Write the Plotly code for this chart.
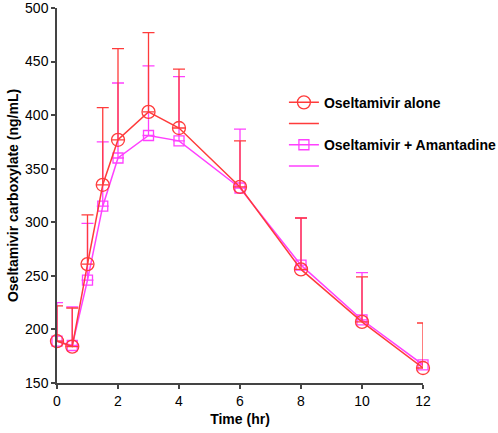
import plotly.graph_objects as go

time_hr = [0, 0.5, 1, 1.5, 2, 3, 4, 6, 8, 10, 12]
alone_mean = [189, 184, 261, 335, 377, 403, 388, 333, 256, 207, 164]
alone_upper = [222, 220, 307, 407, 462, 477, 443, 376, 304, 249, 206]
amant_mean = [189, 185, 246, 315, 360, 381, 376, 332, 260, 209, 167]
amant_upper = [225, 221, 299, 375, 430, 446, 436, 387, 304, 253, 170]

x_ticks = [0, 2, 4, 6, 8, 10, 12]
y_ticks = [150, 200, 250, 300, 350, 400, 450, 500]

RED = "#ff3b3b"
MAG = "#ff40ff"

alone_err = [u - m for u, m in zip(alone_upper, alone_mean)]
amant_err = [u - m for u, m in zip(amant_upper, amant_mean)]
zeros = [0] * len(time_hr)

fig = go.Figure()
fig.add_trace(go.Scatter(
    x=time_hr, y=amant_mean, mode="lines+markers", name="Oseltamivir + Amantadine",
    line=dict(color=MAG, width=1.5),
    marker=dict(symbol="square-open", size=10, color=MAG, line=dict(width=1.3, color=MAG)),
    error_y=dict(type="data", symmetric=False, array=amant_err, arrayminus=zeros,
                 color=MAG, thickness=1.3, width=6),
    cliponaxis=False, legendrank=3,
))
fig.add_trace(go.Scatter(
    x=[None], y=[None], mode="lines", name=" ",
    line=dict(color=MAG, width=1.5), legendrank=4,
))
fig.add_trace(go.Scatter(
    x=time_hr, y=alone_mean, mode="lines+markers", name="Oseltamivir alone",
    line=dict(color=RED, width=1.5),
    marker=dict(symbol="circle-open", size=13, color=RED, line=dict(width=1.3, color=RED)),
    error_y=dict(type="data", symmetric=False, array=alone_err, arrayminus=zeros,
                 color=RED, thickness=1.3, width=6),
    cliponaxis=False, legendrank=1,
))
fig.add_trace(go.Scatter(
    x=[None], y=[None], mode="lines", name=" ",
    line=dict(color=RED, width=1.5), legendrank=2,
))

fig.update_layout(
    width=498, height=433,
    margin=dict(l=57, r=75, t=8, b=50, autoexpand=False),
    paper_bgcolor="white", plot_bgcolor="white",
    font=dict(family="Liberation Sans, Arial", size=14, color="black"),
    showlegend=True,
    legend=dict(x=0.62, y=0.79, xanchor="left", yanchor="top",
                font=dict(family="Liberation Sans", size=14, color="black", weight="bold"),
                bgcolor="rgba(0,0,0,0)", tracegroupgap=0, itemwidth=30),
    xaxis=dict(range=[0, 12], tickvals=x_ticks, ticks="outside", ticklen=4, tickwidth=1.5,
               tickcolor="#444", showline=True, linecolor="#444", linewidth=1.5,
               showgrid=False, zeroline=False, ticklabeloverflow="allow",
               title=dict(text="<b>Time (hr)</b>", font=dict(size=14), standoff=7)),
    yaxis=dict(range=[150, 500], tickvals=y_ticks, ticks="outside", ticklen=4, tickwidth=1.5,
               tickcolor="#444", showline=True, linecolor="#444", linewidth=1.5,
               showgrid=False, zeroline=False, ticklabeloverflow="allow",
               title=dict(text="<b>Oseltamivir carboxylate (ng/mL)</b>", font=dict(size=14), standoff=3)),
    xaxis2=dict(range=[0, 12], tickvals=x_ticks, overlaying="x", anchor="y", side="bottom",
                ticks="inside", ticklen=4, tickwidth=1.5, tickcolor="#444",
                showticklabels=False, showline=False, showgrid=False, zeroline=False),
    yaxis2=dict(range=[150, 500], tickvals=y_ticks, overlaying="y", anchor="x", side="left",
                ticks="inside", ticklen=4, tickwidth=1.5, tickcolor="#444",
                showticklabels=False, showline=False, showgrid=False, zeroline=False),
)

fig.write_html("out.html", config={"displayModeBar": False},
               post_script="document.body.style.margin='0px';")
